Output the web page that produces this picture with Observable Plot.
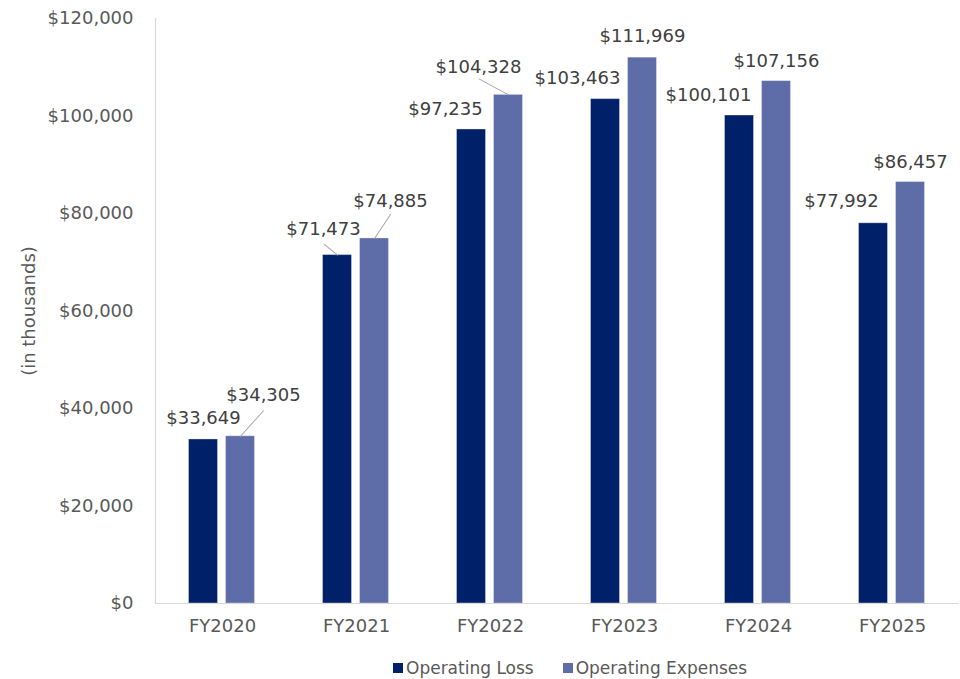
<!DOCTYPE html>
<html>
<head>
<meta charset="utf-8">
<script src="https://cdn.jsdelivr.net/npm/d3@7"></script>
<script src="https://cdn.jsdelivr.net/npm/@observablehq/plot@0.6"></script>
<style>
  html, body { margin: 0; padding: 0; background: #fff; overflow: hidden; }
  #chart svg { display: block; }
  .legend { display: flex; align-items: center; height: 23px; padding-top: 6px; margin-left: 393px;
            font-family: "DejaVu Sans", sans-serif; font-size: 17px; color: #595959; }
  .legend .sw { width: 10px; height: 10px; margin-right: 3px; display: inline-block; }
  .legend .item { display: flex; align-items: center; margin-right: 29px; }
</style>
</head>
<body>
<div id="chart"></div>
<script>
// ---- data ----
const categories = ["FY2020", "FY2021", "FY2022", "FY2023", "FY2024", "FY2025"];
const seriesNames = ["Operating Loss", "Operating Expenses"];
const operatingLoss = [33649, 71473, 97235, 103463, 100101, 77992];
const operatingExpenses = [34305, 74885, 104328, 111969, 107156, 86457];
const yTicks = [0, 20000, 40000, 60000, 80000, 100000, 120000];

// ---- layout (label offsets in px, relative to bar top centre) ----
const labelOffsets = {
  "Operating Loss":     [[0, -21], [-14, -26], [-26, -20], [-28, -21], [-31, -20], [-32, -22]],
  "Operating Expenses": [[23, -41], [16, -37], [-30, -28], [0, -21], [0, -20], [0, -20]]
};
const leaderLines = [
  {series: "Operating Expenses", index: 0, dx: 23, dy: -25.5},
  {series: "Operating Loss", index: 1, dx: -13.5, dy: -11},
  {series: "Operating Expenses", index: 1, dx: 16, dy: -24},
  {series: "Operating Expenses", index: 2, dx: -29.5, dy: -16}
];

const colors = {"Operating Loss": "#002169", "Operating Expenses": "#5E6CA7"};
const fmt = d => "$" + d3.format(",")(d);

const rows = categories.flatMap((c, i) => [
  {category: c, series: seriesNames[0], value: operatingLoss[i], i},
  {category: c, series: seriesNames[1], value: operatingExpenses[i], i}
]);

const leaders = leaderLines.map(l => {
  const r = rows.find(d => d.series === l.series && d.i === l.index);
  return {
    category: r.category, series: r.series, value: r.value,
    length: Math.hypot(l.dx, l.dy),
    rotate: Math.atan2(l.dx, -l.dy) * 180 / Math.PI
  };
});

const spike = {draw(context, l) { context.moveTo(0, 0); context.lineTo(0, -l); }};

const labelMarks = rows.map(r => {
  const [dx, dy] = labelOffsets[r.series][r.i];
  return Plot.text([r], {
    fx: "category", x: "series", y: "value", text: d => fmt(d.value),
    dx, dy, fill: "#404040", lineAnchor: "middle"
  });
});

const plot = Plot.plot({
  width: 960,
  height: 650,
  marginTop: 18,
  marginBottom: 47,
  marginLeft: 154.5,
  marginRight: 1.5,
  style: {fontFamily: "DejaVu Sans, sans-serif", fontSize: "18px", color: "#595959", background: "#fff"},
  fx: {domain: categories, padding: 0, label: null},
  x: {domain: seriesNames, paddingInner: 0.213, paddingOuter: 0.888, axis: null},
  y: {domain: [0, 120000], label: null},
  length: {type: "identity"},
  marks: [
    Plot.barY(rows, {fx: "category", x: "series", y: "value",
      fill: d => colors[d.series], stroke: "#ffffff", strokeOpacity: 0.35, strokeWidth: 1}),
    Plot.ruleY([0], {stroke: "#d9d9d9", strokeWidth: 1.2}),
    Plot.frame({anchor: "left", stroke: "#d9d9d9", strokeWidth: 1.2, facetAnchor: "left"}),
    Plot.axisY({ticks: yTicks, tickFormat: fmt, tickSize: 0, tickPadding: 22,
      label: "(in thousands)", labelAnchor: "center", labelArrow: "none", labelOffset: 133}),
    Plot.axisFx({anchor: "bottom", tickSize: 0, tickPadding: 16, label: null}),
    Plot.vector(leaders, {fx: "category", x: "series", y: "value", length: "length", rotate: "rotate",
      anchor: "start", shape: spike, stroke: "#a6a6a6", strokeWidth: 1}),
    ...labelMarks
  ]
});

document.getElementById("chart").appendChild(plot);

const legend = document.createElement("div");
legend.className = "legend";
seriesNames.forEach(s => {
  const item = document.createElement("span");
  item.className = "item";
  const sw = document.createElement("span");
  sw.className = "sw";
  sw.style.background = colors[s];
  item.appendChild(sw);
  item.appendChild(document.createTextNode(s));
  legend.appendChild(item);
});
document.body.appendChild(legend);
</script>
</body>
</html>
